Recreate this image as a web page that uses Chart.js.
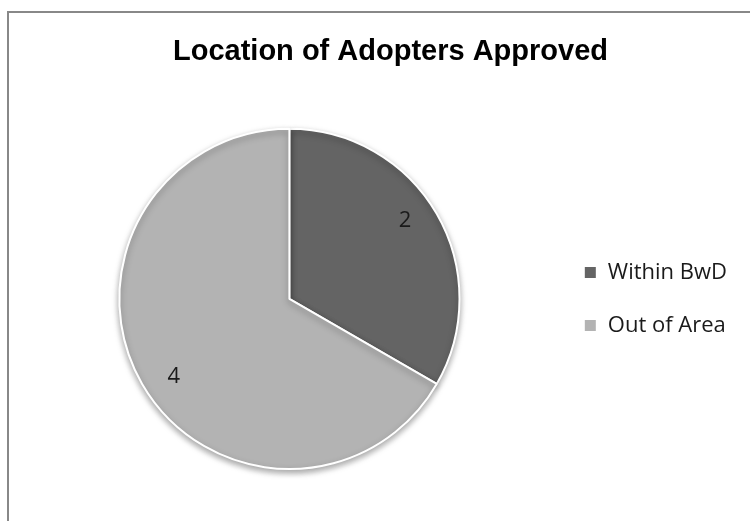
<!DOCTYPE html>
<html lang="en">
<head>
    <meta charset="UTF-8">
    <title>Location of Adopters Approved</title>
    <style>
        body {
            margin: 0;
            background: #fff;
            font-family: "Liberation Sans", Arial, sans-serif;
        }
        #frame {
            position: absolute;
            left: 7px;
            top: 11px;
            width: 760px;
            height: 530px;
            border-top: 2px solid #888;
            border-left: 2px solid #888;
        }
        #wrap {
            position: absolute;
            left: 0;
            top: 0;
            width: 750px;
            height: 521px;
        }
    </style>
</head>
<body>
    <div id="frame"></div>
    <div id="wrap"><canvas id="myChart" width="750" height="521"></canvas></div>

    <script src="https://cdn.jsdelivr.net/npm/chart.js"></script>
    <script>
    var categories = ['Within BwD', 'Out of Area'];
    var adopters = [2, 4];
    var sliceColors = ['#646464', '#b3b3b3'];

    // draws the value inside each slice
    var sliceLabels = {
        id: 'sliceLabels',
        afterDatasetsDraw: function(chart) {
            var ctx = chart.ctx;
            var meta = chart.getDatasetMeta(0);
            ctx.save();
            ctx.font = '22px "Open Sans", sans-serif';
            ctx.fillStyle = '#1a1a1a';
            ctx.textAlign = 'center';
            ctx.textBaseline = 'middle';
            meta.data.forEach(function(arc, i) {
                var mid = (arc.startAngle + arc.endAngle) / 2 - 0.07;
                var r = arc.outerRadius * 0.82;
                ctx.fillText(String(adopters[i]), arc.x + Math.cos(mid) * r, arc.y + Math.sin(mid) * r);
            });
            ctx.restore();
        }
    };

    // soft shadow under the pie
    var pieShadow = {
        id: 'pieShadow',
        beforeDatasetDraw: function(chart) {
            var ctx = chart.ctx;
            ctx.save();
            ctx.shadowColor = 'rgba(0,0,0,0.35)';
            ctx.shadowBlur = 6;
            ctx.shadowOffsetY = 3;
        },
        afterDatasetDraw: function(chart) {
            chart.ctx.restore();
        }
    };

    // nudge the title to the right like the original
    var titleShift = {
        id: 'titleShift',
        afterLayout: function(chart) {
            chart.titleBlock.left += 9;
            chart.titleBlock.right += 9;
        }
    };

    var ctx = document.getElementById('myChart').getContext('2d');
    window.myChart = new Chart(ctx, {
        type: 'pie',
        data: {
            labels: categories,
            datasets: [{
                data: adopters,
                backgroundColor: sliceColors,
                borderColor: '#ffffff',
                borderWidth: 2
            }]
        },
        options: {
            responsive: false,
            animation: false,
            layout: {
                padding: { left: 26, right: 13, top: 0, bottom: 51 }
            },
            plugins: {
                title: {
                    display: true,
                    text: 'Location of Adopters Approved',
                    color: '#000',
                    font: { family: '"Liberation Sans", Arial, sans-serif', size: 29, weight: 'bold' },
                    padding: { top: 35, bottom: 58 }
                },
                legend: {
                    position: 'right',
                    fullSize: false,
                    labels: {
                        color: '#1a1a1a',
                        boxWidth: 13,
                        boxHeight: 13,
                        padding: 31,
                        font: { family: '"Open Sans", sans-serif', size: 22 }
                    }
                },
                tooltip: { enabled: false }
            }
        },
        plugins: [sliceLabels, pieShadow, titleShift]
    });
    </script>
</body>
</html>
